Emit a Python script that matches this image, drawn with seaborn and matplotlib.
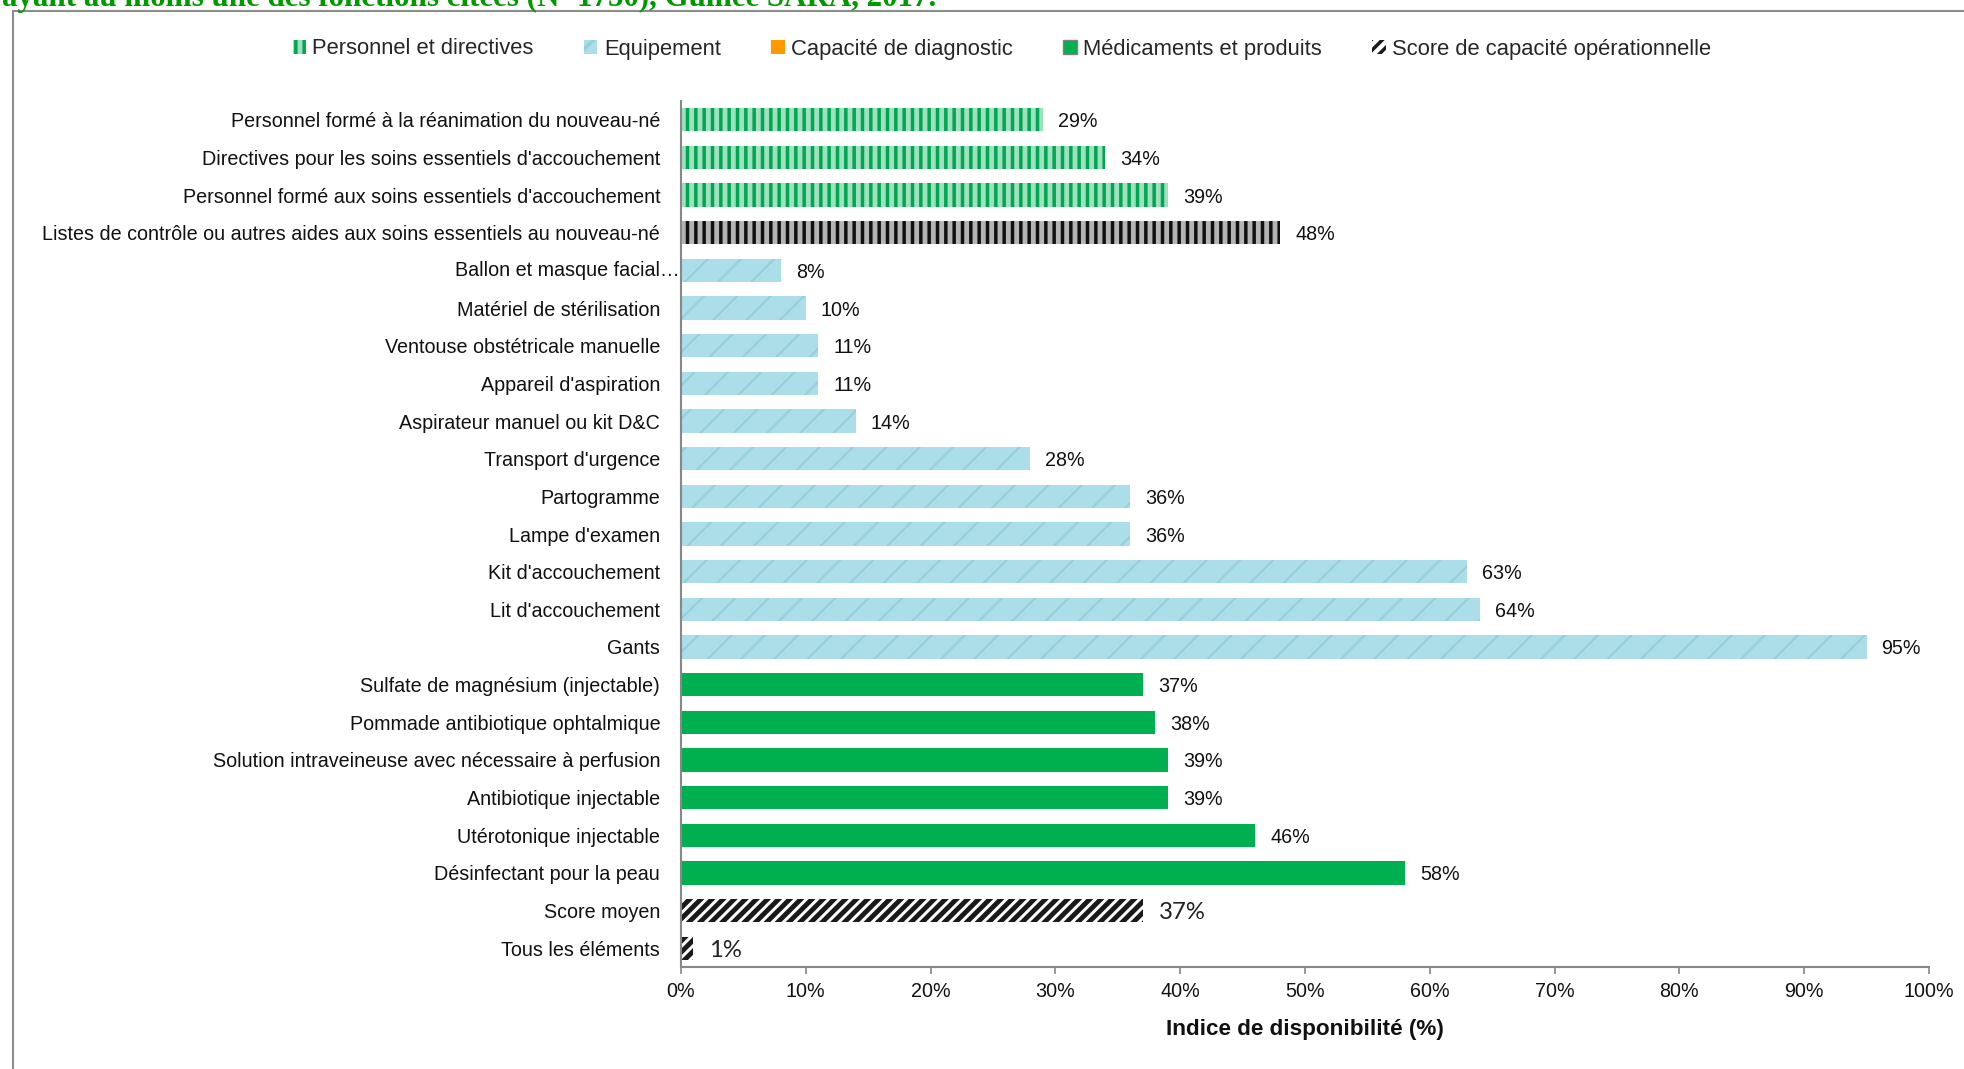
import matplotlib
matplotlib.use("Agg")
import matplotlib.pyplot as plt
from matplotlib import font_manager
from matplotlib.patches import Patch, Rectangle
import pandas as pd
import seaborn as sns

# ---- data -------------------------------------------------------------
items = [
    "Personnel formé à la réanimation du nouveau-né",
    "Directives pour les soins essentiels d'accouchement",
    "Personnel formé aux soins essentiels d'accouchement",
    "Listes de contrôle ou autres aides aux soins essentiels au nouveau-né",
    "Ballon et masque facial…",
    "Matériel de stérilisation",
    "Ventouse obstétricale manuelle",
    "Appareil d'aspiration",
    "Aspirateur manuel ou kit D&C",
    "Transport d'urgence",
    "Partogramme",
    "Lampe d'examen",
    "Kit d'accouchement",
    "Lit d'accouchement",
    "Gants",
    "Sulfate de magnésium (injectable)",
    "Pommade antibiotique ophtalmique",
    "Solution intraveineuse avec nécessaire à perfusion",
    "Antibiotique injectable",
    "Utérotonique injectable",
    "Désinfectant pour la peau",
    "Score moyen",
    "Tous les éléments",
]
values = [29, 34, 39, 48, 8, 10, 11, 11, 14, 28, 36, 36, 63, 64, 95,
          37, 38, 39, 39, 46, 58, 37, 1]
groups = (["personnel"] * 3 + ["aides"] + ["equipement"] * 11
          + ["medicaments"] * 6 + ["score"] * 2)

legend_labels = [
    "Personnel et directives",
    "Equipement",
    "Capacité de diagnostic",
    "Médicaments et produits",
    "Score de capacité opérationnelle",
]
x_ticks = [0, 10, 20, 30, 40, 50, 60, 70, 80, 90, 100]
x_label = "Indice de disponibilité (%)"
title_tail = "ayant au moins une des fonctions citées (N=1750), Guinée SARA, 2017."

# ---- styles -----------------------------------------------------------
styles = {
    "personnel":   dict(face="#9FE0BE", hatch="||", edge="#00A651", hlw=2.5),
    "aides":       dict(face="#B4B4B4", hatch="||", edge="#111111", hlw=2.5),
    "equipement":  dict(face="#ABDEE8", hatch="/", edge="#94CFDB", hlw=1.5),
    "medicaments": dict(face="#00B050", hatch=None, edge="#00B050", hlw=1.0),
    "score":       dict(face="#FFFFFF", hatch="///", edge="#1A1A1A", hlw=3.5),
}

sns.set_theme(style="white")
installed = {f.name for f in font_manager.fontManager.ttflist}
if "Liberation Sans Narrow" in installed:
    base_font = ["Liberation Sans Narrow", "DejaVu Sans"]
    fs, fs_leg = 16, 18
else:
    base_font = ["Liberation Sans", "DejaVu Sans"]
    fs, fs_leg = 14.2, 15.8
plt.rcParams["font.family"] = base_font
plt.rcParams["hatch.linewidth"] = 2.5

W, H = 1964, 1069
fig = plt.figure(figsize=(W / 100, H / 100), dpi=100)
ax = fig.add_axes([681 / W, 1 - 967 / H, (1929 - 681) / W, (967 - 101) / H])

df = pd.DataFrame({"item": items, "value": values, "group": groups})
face_palette = {it: styles[g]["face"] for it, g in zip(items, groups)}
sns.barplot(data=df, x="value", y="item", hue="item", palette=face_palette,
            orient="h", dodge=False, legend=False, width=0.62, ax=ax,
            saturation=1)

# per-bar hatching
bars = sorted(ax.patches, key=lambda p: p.get_y())
for p, g in zip(bars, groups):
    st = styles[g]
    p.set_linewidth(0)
    p.set_edgecolor(st["edge"])
    if st["hatch"]:
        p.set_hatch(st["hatch"])
        try:
            p.set_hatch_linewidth(st["hlw"])
        except AttributeError:
            pass

# value labels
for p, v, g in zip(bars, values, groups):
    y = p.get_y() + p.get_height() / 2
    if g == "score":
        ax.annotate(f"{v}%", (p.get_width(), y), xytext=(16, 0),
                    textcoords="offset pixels", va="center_baseline",
                    ha="left", fontsize=fs + 3,
                    family=["Lato", "DejaVu Sans"], color="#222222")
    else:
        ax.annotate(f"{v}%", (p.get_width(), y), xytext=(15, 0),
                    textcoords="offset pixels", va="center_baseline",
                    ha="left", fontsize=fs, color="#111111")

ax.set_xlim(0, 100)
ax.set_ylim(len(items) - 0.5, -0.5)
ax.set_xticks(x_ticks)
ax.set_xticklabels([f"{t}%" for t in x_ticks], fontsize=fs, color="#111111")
ax.set_ylabel("")
ax.set_xlabel(x_label, fontsize=fs + 2, fontweight="bold", color="#111111",
              labelpad=13)

# category labels; the truncated one runs right up to the axis
ylabels = list(items)
ylabels[4] = ""
ax.set_yticks(range(len(items)))
ax.set_yticklabels(ylabels, fontsize=fs, color="#111111")
ax.text(-0.001, 4, items[4], transform=ax.get_yaxis_transform(),
        ha="right", va="center", fontsize=fs, color="#111111")

ax.tick_params(axis="y", length=0, pad=15)
ax.tick_params(axis="x", direction="out", length=5, width=1.2,
               color="#888888", pad=6, bottom=True)
for s in ["top", "right"]:
    ax.spines[s].set_visible(False)
for s in ["left", "bottom"]:
    ax.spines[s].set_color("#888888")
    ax.spines[s].set_linewidth(1.5)
ax.grid(False)

# legend
handles = []
for lab, key in zip(legend_labels,
                    ["personnel", "equipement", None, "medicaments", "score"]):
    if key is None:
        handles.append(Patch(facecolor="#FF9900", edgecolor="#FF9900",
                             linewidth=0, label=lab))
    elif key == "medicaments":
        handles.append(Patch(facecolor="#00B050", edgecolor="#808080",
                             linewidth=1.0, label=lab))
    else:
        st = styles[key]
        handles.append(Patch(facecolor=st["face"], edgecolor=st["edge"],
                             hatch=st["hatch"], linewidth=0, label=lab))
fig.legend(handles=handles, loc="center", bbox_to_anchor=(1002 / W, 1 - 49 / H),
           ncol=5, frameon=False, fontsize=fs_leg, handlelength=0.6,
           handleheight=0.6, handletextpad=0.3, columnspacing=2.3)

# surrounding frame and the partly visible heading above it
fig.patches.append(Rectangle((13 / W, -0.1), 1.2, 1.1 - 11 / H,
                             transform=fig.transFigure, fill=False,
                             edgecolor="#8C8C8C", linewidth=1.5))
fig.text(2 / W, 1 - 6 / H, title_tail, ha="left", va="baseline",
         fontsize=22.3, fontweight="bold", color="#009A00",
         family=["Liberation Serif", "DejaVu Serif"])

fig.savefig("out.png", dpi=100)
